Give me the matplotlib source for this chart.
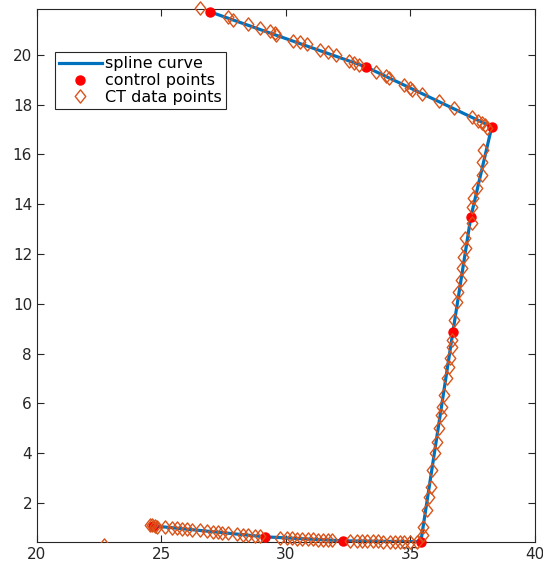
import numpy as np
import matplotlib
matplotlib.use("Agg")
import matplotlib.pyplot as plt
from matplotlib.path import Path

# control points (spline passes through them)
ctrl_x = [26.95, 33.21, 38.27, 37.43, 36.71, 35.42, 32.29, 29.16, 24.66]
ctrl_y = [21.73, 19.52, 17.11, 13.49, 8.88, 0.44, 0.48, 0.64, 1.08]

# CT data points
ct_x = [26.55, 27.67, 27.87, 28.47, 28.96, 29.36, 29.56, 29.60, 30.28, 30.56,
        30.84, 31.37, 31.69, 32.01, 32.53, 32.73, 32.93, 33.61, 34.02, 34.14,
        34.74, 34.98, 35.06, 35.46, 36.14, 36.75, 37.47, 37.71, 37.87, 37.99,
        38.07,
        37.91, 37.87, 37.87, 37.67, 37.51, 37.47, 37.47, 37.19, 37.23, 37.11,
        37.07, 37.03, 36.91, 36.87, 36.75, 36.67, 36.67, 36.59, 36.55, 36.47,
        36.35, 36.27, 36.22, 36.14, 36.06, 35.98, 35.86, 35.82, 35.74, 35.66,
        35.50, 35.50,
        35.26, 34.98, 34.74, 34.58, 34.38, 34.18, 33.90, 33.69, 33.49, 33.25,
        33.05, 32.85, 32.57, 31.85, 31.69, 31.49, 31.29, 31.08, 30.88, 30.64,
        30.44, 30.24, 30.04, 29.76, 28.96, 28.76, 28.47, 28.27, 28.03, 27.67,
        27.43, 27.27, 27.07, 26.83, 26.55, 26.22, 26.02, 25.82, 25.62, 25.42,
        25.14, 24.82, 24.74, 24.62, 24.54,
        22.70]
ct_y = [21.89, 21.53, 21.41, 21.24, 21.08, 20.96, 20.88, 20.80, 20.56, 20.52,
        20.44, 20.20, 20.12, 20.00, 19.76, 19.68, 19.60, 19.32, 19.16, 19.08,
        18.80, 18.67, 18.59, 18.43, 18.15, 17.87, 17.51, 17.35, 17.27, 17.19,
        17.07,
        16.18, 15.70, 15.18, 14.66, 14.26, 13.90, 13.25, 12.65, 12.25, 11.89,
        11.45, 10.96, 10.48, 10.08, 9.36, 8.55, 8.27, 7.83, 7.47, 7.03,
        6.35, 5.86, 5.54, 5.02, 4.46, 4.02, 3.33, 2.65, 2.25, 1.73,
        1.04, 0.72,
        0.44, 0.44, 0.44, 0.44, 0.45, 0.45, 0.45, 0.46, 0.46, 0.46,
        0.47, 0.47, 0.48, 0.50, 0.51, 0.52, 0.53, 0.54, 0.55, 0.56,
        0.57, 0.58, 0.60, 0.61, 0.66, 0.68, 0.71, 0.73, 0.75, 0.79,
        0.81, 0.82, 0.84, 0.87, 0.90, 0.93, 0.95, 0.96, 0.98, 1.00,
        1.03, 1.05, 1.07, 1.10, 1.12,
        0.30]

x_ticks = [20, 25, 30, 35, 40]
y_ticks = [2, 4, 6, 8, 10, 12, 14, 16, 18, 20]
x_lim = (20, 40)
y_lim = (0.43, 21.84)

blue = "#0072BD"
orange = "#D95319"
axcol = "#262626"

diamond = Path([(-0.4, 0), (0, 0.5), (0.4, 0), (0, -0.5), (-0.4, 0)],
               [Path.MOVETO, Path.LINETO, Path.LINETO, Path.LINETO, Path.CLOSEPOLY])

plt.rcParams['font.family'] = ['DejaVu Sans']
fig = plt.figure(figsize=(5.43, 5.67), dpi=100)
ax = fig.add_axes([0.068, 0.044, 0.917, 0.940])

ax.plot(ctrl_x, ctrl_y, color=blue, lw=2.3, label="spline curve", zorder=2)
ax.plot(ctrl_x, ctrl_y, 'o', color="red", ms=6.5, mec="red",
        label="control points", zorder=3, clip_on=False)

ct_x = np.array(ct_x)
ct_y = np.array(ct_y)
inside = ct_y >= y_lim[0]
ax.plot(ct_x[inside], ct_y[inside], ls="none", marker=diamond, ms=9.5,
        mfc="none", mec=orange, mew=1.0, label="CT data points",
        zorder=4, clip_on=False)
ax.plot(ct_x[~inside], ct_y[~inside], ls="none", marker=diamond, ms=9.5,
        mfc="none", mec=orange, mew=1.0, zorder=4, clip_on=True)

ax.set_xlim(*x_lim)
ax.set_ylim(*y_lim)
ax.set_aspect("equal", adjustable="box")
ax.set_xticks(x_ticks)
ax.set_yticks(y_ticks)
ax.tick_params(direction="in", length=5, width=0.8, color=axcol,
               labelcolor=axcol, labelsize=11, top=True, right=True)
for s in ax.spines.values():
    s.set_color(axcol)
    s.set_linewidth(0.8)

leg = ax.legend(loc="upper left", bbox_to_anchor=(0.036, 0.919),
                borderaxespad=0, fancybox=False, edgecolor=axcol,
                fontsize=11.5, handlelength=2.7, handletextpad=0.2,
                labelspacing=0.12, borderpad=0.25, framealpha=1)
leg.get_frame().set_linewidth(0.8)

fig.savefig("out.png", dpi=100)
